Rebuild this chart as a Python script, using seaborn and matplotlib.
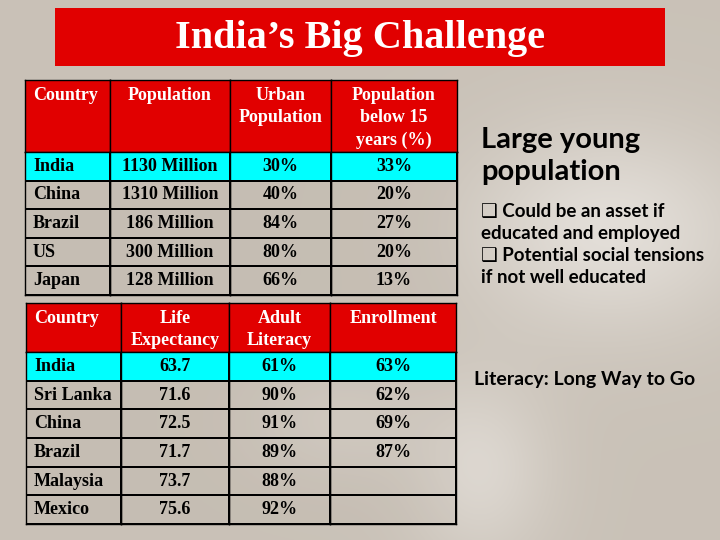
import numpy as np
import matplotlib
matplotlib.use('Agg')
import matplotlib.pyplot as plt
import seaborn as sns
from matplotlib.colors import ListedColormap

sns.set_theme(style='white')
plt.rcParams['font.family'] = ['Liberation Serif', 'DejaVu Serif']

# ---- data ----
t1_countries = ['India', 'China', 'Brazil', 'US', 'Japan']
t1_population = [1130, 1310, 186, 300, 128]          # million
t1_urban = [30, 40, 84, 80, 66]                      # %
t1_below15 = [33, 20, 27, 20, 13]                    # %
t1_headers = ['Country', 'Population', 'Urban\nPopulation', 'Population\nbelow 15\nyears (%)']

t2_countries = ['India', 'Sri Lanka', 'China', 'Brazil', 'Malaysia', 'Mexico']
t2_life = [63.7, 71.6, 72.5, 71.7, 73.7, 75.6]
t2_literacy = [61, 90, 91, 89, 88, 92]              # %
t2_enroll = [63, 62, 69, 87, np.nan, np.nan]        # %
t2_headers = ['Country', 'Life\nExpectancy', 'Adult\nLiteracy', 'Enrollment']

highlight = ['India']

RED = '#e10000'
CYAN = '#00ffff'
BODY = (0.74, 0.70, 0.66, 0.25)
W, H = 720, 540


def box(x0, y0, x1, y1):
    return [x0 / W, 1 - y1 / H, (x1 - x0) / W, (y1 - y0) / H]


def pct(v):
    return '' if np.isnan(v) else f'{v:.0f}%'


fig = plt.figure(figsize=(7.2, 5.4), dpi=100)

# background (soft beige with lighter petals)
bg = fig.add_axes([0, 0, 1, 1])
yy, xx = np.mgrid[0:H, 0:W]
glow = (0.55 * np.exp(-(((xx - 610) / 140) ** 2 + ((yy - 230) / 100) ** 2))
        + 0.40 * np.exp(-(((xx - 480) / 70) ** 2 + ((yy - 470) / 90) ** 2))
        + 0.25 * np.exp(-(((xx - 340) / 90) ** 2 + ((yy - 420) / 60) ** 2)))
glow = np.clip(glow, 0, 1)[..., None]
base = np.array([0.79, 0.76, 0.72])
img = base * (1 - glow) + np.array([0.97, 0.96, 0.95]) * glow
bg.imshow(img, aspect='auto')
bg.axis('off')

# title bar
tax = fig.add_axes(box(55, 8, 665, 66))
tax.set_facecolor(RED)
tax.set_xticks([])
tax.set_yticks([])
for s in tax.spines.values():
    s.set_visible(False)
tax.text(0.5, 0.47, 'India\u2019s Big Challenge', ha='center', va='center',
         color='white', fontsize=29, fontweight='bold', transform=tax.transAxes)

cell_font = dict(fontsize=13, fontweight='bold', family='Liberation Serif')


def draw_table(headers, columns, countries, edges, top, head_bot, bottom):
    codes = np.array([[0 if c in highlight else 1] for c in countries])
    for j in range(len(headers)):
        x0, x1 = edges[j], edges[j + 1]
        # header cell
        hx = fig.add_axes(box(x0, top, x1, head_bot))
        sns.heatmap(np.zeros((1, 1)), cmap=ListedColormap([RED]), cbar=False,
                    xticklabels=False, yticklabels=False, ax=hx)
        hx_x, hx_ha = (8 / (x1 - x0), 'left') if j == 0 else (0.5, 'center')
        hx.text(hx_x, 1 - 7 / (head_bot - top), headers[j], ha=hx_ha, va='top',
                color='white', transform=hx.transAxes, linespacing=1.4, **cell_font)
        # body cells
        bx = fig.add_axes(box(x0, head_bot, x1, bottom))
        annot = None if j == 0 else np.array([[v] for v in columns[j]])
        sns.heatmap(codes, cmap=ListedColormap([CYAN, BODY]), vmin=0, vmax=1,
                    annot=annot, fmt='', annot_kws=dict(color='black', **cell_font),
                    linewidths=1.3, linecolor='black', cbar=False,
                    xticklabels=False, yticklabels=False, ax=bx)
        bx.patch.set_alpha(0)
        if j == 0:
            for i, name in enumerate(columns[0]):
                bx.text(8 / (x1 - x0), i + 0.5, name, ha='left', va='center',
                        color='black', transform=bx.get_yaxis_transform(), **cell_font)
        for ax in (hx, bx):
            for s in ax.spines.values():
                s.set_visible(True)
                s.set_color('black')
                s.set_linewidth(1.0)


draw_table(t1_headers,
           [t1_countries, [f'{v} Million' for v in t1_population],
            [pct(v) for v in t1_urban], [pct(v) for v in t1_below15]],
           t1_countries, [25, 110, 230, 331, 457], 80, 152, 295)

draw_table(t2_headers,
           [t2_countries, [f'{v:.1f}' for v in t2_life],
            [pct(v) for v in t2_literacy], [pct(v) for v in t2_enroll]],
           t2_countries, [26, 121, 229, 330, 456], 303, 352, 524)

# side notes
side = ['Lato', 'DejaVu Sans']
fig.text(481 / W, 1 - 127 / H, 'Large young\npopulation', ha='left', va='top',
         family=side, fontsize=21, fontweight='bold', color='black', linespacing=1.3)
fig.text(481 / W, 1 - 203 / H,
         '\u2751 Could be an asset if\neducated and employed\n'
         '\u2751 Potential social tensions\nif not well educated',
         ha='left', va='top', family=side, fontsize=13.5, fontweight='bold',
         color='black', linespacing=1.35)
fig.text(474 / W, 1 - 379 / H, 'Literacy: Long Way to Go', ha='left', va='center',
         family=side, fontsize=14, fontweight='bold', color='black')

fig.savefig('out.png', dpi=100)
